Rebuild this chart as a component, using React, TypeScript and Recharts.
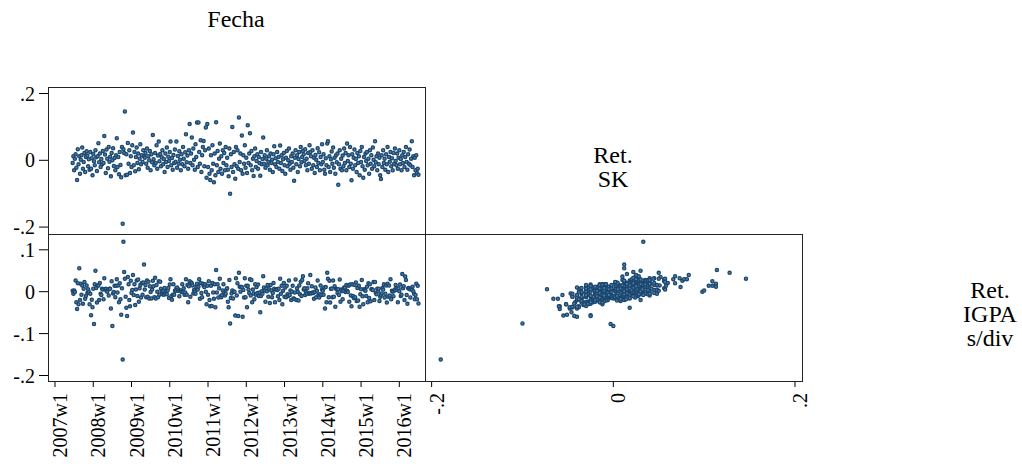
import React from "react";
import { ScatterChart, Scatter, XAxis, YAxis } from "recharts";

// weekly returns, in thousandths; first observation is week 24 counted from 2007w1
const startWeek = 24;

const skMilli = [
  -8, 12, -30, 5, 18, -22, -59, 33, -12, 12, -40, 2, 15, 38, -25, -5, 22, -35, 10, 27,
  14, -18, 3, -28, 25, -25, 6, -45, 19, -3, -15, 30, 9, -32, 12, 51, -6, 20, -20, 4,
  -12, 28, -8, 73, 17, -38, 32, 5, -24, 40, -4, 11, -48, 22, 0, 36, -17, 7, -30, 15,
  66, -20, 10, -42, 25, -14, -51, 40, -190, 33, 22, 146, -45, 18, -43, 52, -10, 30, -38, 12,
  -20, 45, 83, -15, 25, -33, 10, 38, -8, 20, -27, 5, 48, -12, 15, -5, 30, 12, 8, 22,
  -10, 35, -22, 12, 0, 28, -30, 18, -6, 76, 3, -15, 22, -8, 45, -25, 14, 56, -3, 19,
  -18, 9, 30, -12, 4, -35, 20, -5, 38, -20, 11, -2, 25, 56, -15, 7, -28, 16, -8, 32,
  -4, 56, -22, 13, -10, 27, 2, -30, 18, -12, 40, 5, -18, 24, 78, -6, 14, -25, 30, 109,
  -8, 20, 68, -15, 35, 2, -28, 48, 10, 113, -20, 113, 25, -10, 60, -35, 15, 40, 58, -18,
  30, 98, -52, 109, -20, 35, -40, -59, 15, -30, 45, -10, -66, 20, -45, 114, -15, 28, -35, 5,
  50, -25, 12, -40, 30, -8, 22, -30, 40, -15, 8, -28, -48, 35, -100, 18, -20, 100, -35, 25,
  -12, -55, 40, -18, 30, -25, 128, -5, 20, -30, 74, -40, 15, -10, 45, -22, 8, -38, 105, -8,
  20, 81, -15, 28, -30, 5, -47, 12, 35, -20, -2, 18, -25, 10, -8, -46, 25, -12, 4, 68,
  -10, 15, -22, 5, 30, -15, -4, 12, -28, 20, -8, 2, -35, 18, 42, -12, 6, -20, 25, -5,
  10, -25, 44, -8, 15, -32, 3, 22, -15, -40, 8, 28, -18, 0, 35, -10, -28, 12, -5, 20,
  -22, -61, 8, 30, -12, 15, -35, 4, 25, -18, 40, -6, 10, 28, 18, -2, 33, -15, 5, -30,
  22, -10, 45, 25, 12, -25, 30, -15, 8, -38, 16, 2, -20, 36, -8, 24, -30, 10, -12, 48,
  -5, 18, -28, -40, 6, -15, 50, 57, -20, 12, -35, 3, 26, -10, 38, -22, 8, -40, 15, -6,
  20, -73, -12, 30, -25, 5, -30, 14, -18, 35, -8, 22, -30, 50, -2, 15, -20, 40, -10, -60,
  18, -25, 8, 32, -15, 4, -35, 22, -8, 12, -45, 28, -5, 40, -18, -52, 10, -28, 20, -2,
  25, -15, 5, -40, 30, -10, 15, -25, 38, 2, -18, 57, -6, 12, -30, 20, -12, 8, -45, -56,
  15, -20, 30, -8, 5, -28, 18, -12, 40, -35, 10, -4, 25, -18, 6, -30, 22, -10, 35, -2,
  -15, 20, -25, 8, 30, -12, 4, -30, 15, -8, 25, -20, 10, 40, -5, -28, 18, -10, 32, -15,
  5, 57, -20, 12, -45, 8, -30, 15, -38, -25, -43,
];

const igpaMilli = [
  2, -5, 3, -1, 27, -25, -41, 20, -30, 56, -20, 19, -7, 15, -29, 7, 23, -17, -10, 15,
  -3, 6, -1, -30, -5, -56, -19, -37, 7, -77, 18, 50, 9, -26, 15, 15, -20, 21, -5, -8,
  7, 5, -18, 32, 6, 7, 2, 0, 6, -9, 7, 7, -40, 25, -82, -4, -1, 14, -13, 14,
  30, -2, 15, -25, 20, -18, -55, 8, -162, 119, 47, 31, -12, -38, -58, 35, 18, -20, -35, 26,
  -3, 4, 40, -8, 18, -32, 5, 27, -10, 29, -24, 8, 16, -14, 21, -7, 22, 65, 5, 16,
  -13, 27, -12, 24, -16, 13, -1, -16, 5, 26, 13, -13, 33, -16, 16, 0, -13, 25, -7, 24,
  7, 1, -6, 2, -7, 9, -4, 0, -6, 3, 9, -15, 17, 30, -11, -19, -7, 18, -7, 2,
  3, 8, 10, 2, 5, -11, 2, 3, -1, 18, -1, 8, -7, -2, 30, -7, 16, -25, 13, 25,
  -12, 22, 20, 15, -4, 4, 0, -5, 11, 19, 5, 12, 30, -17, 21, -3, -13, 19, 14, 11,
  18, 0, -30, 14, -7, 25, -20, -35, 14, -34, 21, -2, -17, 18, -37, 52, -2, 18, -14, 8,
  31, -11, -13, -8, 3, 18, -3, -9, -5, 5, 8, -24, -37, 28, -76, -15, -4, 3, -16, 0,
  0, -57, 32, -9, 20, -58, 45, 12, 0, 11, 11, -60, 4, -14, 32, -13, 14, -37, 14, 5,
  -3, 30, -9, 28, -25, 5, -4, -18, 18, -7, 11, -3, 17, -10, -2, -49, -10, 1, -5, 37,
  10, 3, -24, 8, 1, 16, -12, 6, -27, 16, 3, -13, -3, 21, 7, -25, 5, 6, 4, -11,
  7, -20, 31, -5, 14, -30, 2, 21, -12, 10, -13, 14, -6, -10, 27, -8, 3, -20, 0, 14,
  -16, -17, -2, 29, -20, 8, -1, -21, 15, -6, 24, -10, 28, 37, 5, 8, -8, 0, -4, 8,
  20, -5, -3, 40, -4, 13, -2, -3, -17, -1, 10, -13, 2, 27, -8, -14, -6, 15, -8, 5,
  2, -7, 10, -40, 11, -25, 45, 31, -13, 26, -26, 7, 7, -13, 27, -12, 13, -36, 7, 6,
  -3, 6, -8, 29, -24, 5, 1, -18, 2, 10, 10, -1, 16, 2, -1, 14, -24, 17, -9, -35,
  18, -10, -15, 16, -13, 22, -22, 9, -21, 14, -36, -6, 6, 28, -11, -30, 6, 4, 2, -10,
  12, -25, 20, -15, 18, -23, 6, 6, 4, 23, -20, 23, -3, -6, 7, 1, 7, -22, -12, -8,
  -4, 9, 5, 18, -14, -5, 15, -26, 19, -12, 15, -9, 30, -18, 2, 0, -11, 2, 5, 16,
  8, 4, -25, 8, 1, 17, -10, -7, 42, 8, 13, -20, 36, 28, -8, -29, 8, 9, 6, -14,
  6, 5, 12, 1, -5, -18, -8, 19, -18, 14, -28,
];

const weekTicks = [0, 52, 104, 156, 208, 260, 312, 364, 416, 468];
const weekLabels = ["2007w1", "2008w1", "2009w1", "2010w1", "2011w1", "2012w1", "2013w1", "2014w1", "2015w1", "2016w1"];
const skTicks = [-0.2, 0, 0.2];
const igpaTicks = [-0.2, -0.1, 0, 0.1];

const rows = skMilli.map((v, i) => ({ week: startWeek + i, sk: v / 1000, igpa: igpaMilli[i] / 1000 }));

const FONT = "'Liberation Serif', 'DejaVu Serif', serif";
const NAVY = "#1a476f";

const fmt = (v: number) => String(v).replace("0.", ".");

const Dot = (p: any) => (
  <circle cx={p.cx} cy={p.cy} r={1.6} fill="#5a7ea3" stroke={NAVY} strokeWidth={1.3} />
);

const RotTick = ({ x, y, payload, labels }: any) => {
  const text = labels ? labels[weekTicks.indexOf(payload.value)] : fmt(payload.value);
  return (
    <text transform={`translate(${x},${y}) rotate(-90)`} textAnchor="end" dy={12}
      style={{ fontFamily: FONT, fontSize: 20 }} fill="#000">{text}</text>
  );
};

const yTick = { fill: "#000", fontSize: 20, fontFamily: FONT, style: { fontFamily: FONT } };
const frame = (left: number, top: number, width: number, height: number): React.CSSProperties => ({
  position: "absolute", left, top, width, height, border: "1px solid #222",
  boxSizing: "border-box", pointerEvents: "none",
});

export default function App() {
  return (
    <div style={{ position: "absolute", left: 0, top: 0, width: 1022, height: 464, background: "#fff", fontFamily: FONT }}>
      {/* Ret. SK against date */}
      <div style={{ position: "absolute", left: 0, top: 60 }}>
        <ScatterChart width={430} height={190} margin={{ top: 27, right: 5, bottom: 16, left: 0 }}>
          <XAxis type="number" dataKey="week" hide domain={[-9.5, 502.9]} allowDataOverflow />
          <YAxis type="number" dataKey="sk" width={48} domain={[-0.2207, 0.2195]} ticks={skTicks}
            interval={0} allowDataOverflow tick={yTick} tickFormatter={fmt} tickSize={9} tickMargin={4}
            axisLine={false} tickLine={{ stroke: "#000" }} />
          <Scatter data={rows} shape={Dot} isAnimationActive={false} />
        </ScatterChart>
      </div>

      {/* Ret. IGPA against date */}
      <div style={{ position: "absolute", left: 0, top: 224 }}>
        <ScatterChart width={430} height={240} margin={{ top: 10, right: 5, bottom: 0, left: 0 }}>
          <XAxis type="number" dataKey="week" domain={[-9.5, 502.9]} ticks={weekTicks} interval={0}
            allowDataOverflow height={83} tickSize={6} tickMargin={6} axisLine={false}
            tickLine={{ stroke: "#000" }} tick={<RotTick labels={weekLabels} />} />
          <YAxis type="number" dataKey="igpa" width={48} domain={[-0.2131, 0.1377]} ticks={igpaTicks}
            interval={0} allowDataOverflow tick={yTick} tickFormatter={fmt} tickSize={9} tickMargin={4}
            axisLine={false} tickLine={{ stroke: "#000" }} />
          <Scatter data={rows} shape={Dot} isAnimationActive={false} />
        </ScatterChart>
      </div>

      {/* Ret. IGPA against Ret. SK */}
      <div style={{ position: "absolute", left: 420, top: 224 }}>
        <ScatterChart width={390} height={240} margin={{ top: 10, right: 8, bottom: 0, left: 5 }}>
          <XAxis type="number" dataKey="sk" domain={[-0.2073, 0.2077]} ticks={skTicks} interval={0}
            allowDataOverflow height={83} tickSize={6} tickMargin={6} axisLine={false}
            tickLine={{ stroke: "#000" }} tick={<RotTick />} />
          <YAxis type="number" dataKey="igpa" hide domain={[-0.2131, 0.1377]} allowDataOverflow />
          <Scatter data={rows} shape={Dot} isAnimationActive={false} />
        </ScatterChart>
      </div>

      <div style={frame(48, 87, 378, 148)} />
      <div style={frame(48, 234, 378, 148)} />
      <div style={frame(425, 234, 378, 148)} />

      <svg width={1022} height={464} style={{ position: "absolute", left: 0, top: 0, pointerEvents: "none" }}>
        <g style={{ fontFamily: FONT, fontSize: 24 }} fill="#000" textAnchor="middle">
          <text x={236} y={27}>Fecha</text>
          <text x={613} y={163}>Ret.</text>
          <text x={613} y={187}>SK</text>
          <text x={990} y={298}>Ret.</text>
          <text x={990} y={322}>IGPA</text>
          <text x={990} y={346}>s/div</text>
        </g>
      </svg>
    </div>
  );
}
